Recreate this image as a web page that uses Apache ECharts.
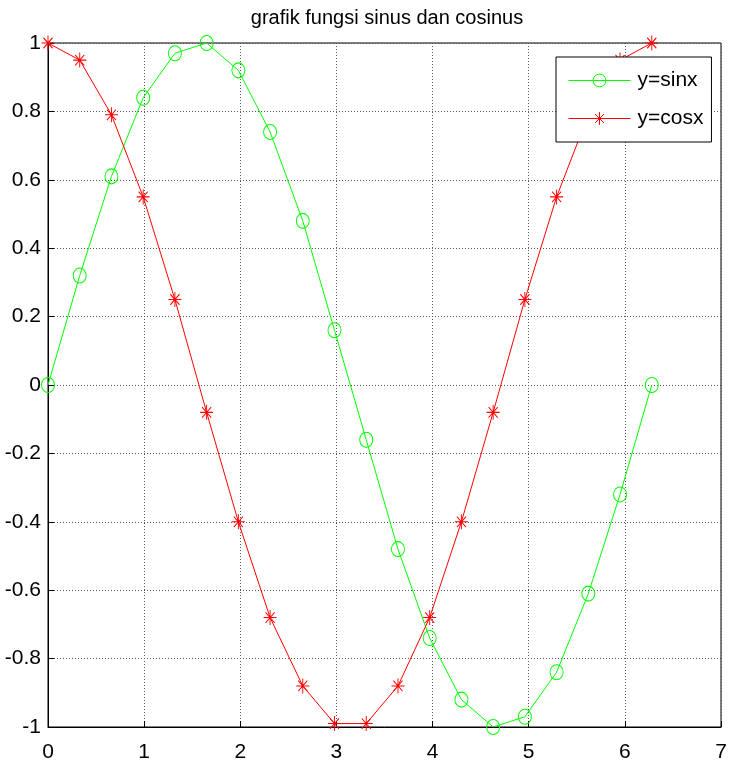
<!DOCTYPE html>
<html>
<head>
<meta charset="utf-8">
<script src="https://cdn.jsdelivr.net/npm/echarts@6/dist/echarts.min.js"></script>
<style>html,body{margin:0;padding:0;background:#fff}#c{width:731px;height:763px}</style>
</head>
<body>
<div id="c"></div>
<script>
const titleText = 'grafik fungsi sinus dan cosinus';
const xValues = [0, 0.33, 0.66, 0.99, 1.32, 1.65, 1.98, 2.31, 2.65, 2.98, 3.31, 3.64, 3.97, 4.30, 4.63, 4.96, 5.29, 5.62, 5.95, 6.28];
const sinValues = [0, 0.32, 0.61, 0.84, 0.97, 1.00, 0.92, 0.74, 0.48, 0.16, -0.16, -0.48, -0.74, -0.92, -1.00, -0.97, -0.84, -0.61, -0.32, 0];
const cosValues = [1, 0.95, 0.79, 0.55, 0.25, -0.08, -0.40, -0.68, -0.88, -0.99, -0.99, -0.88, -0.68, -0.40, -0.08, 0.25, 0.55, 0.79, 0.95, 1];
const seriesNames = ['y=sinx', 'y=cosx'];

const FONT = "'Liberation Sans', Arial, sans-serif";
const starPath = 'path://M0,-10 L0,10 M-10,0 L10,0 M-7,-7 L7,7 M-7,7 L7,-7';

const chart = echarts.init(document.getElementById('c'), null, {renderer: 'canvas'});
chart.setOption({
  animation: false,
  backgroundColor: '#fff',
  title: {
    text: titleText,
    left: 382, top: 3, textAlign: 'center',
    textStyle: {fontFamily: FONT, fontSize: 20, fontWeight: 'normal', color: '#000'}
  },
  grid: {left: 48, right: 10, top: 43, bottom: 36, show: true, borderColor: '#000', borderWidth: 1, backgroundColor: '#fff', containLabel: false, outerBoundsMode: 'none'},
  legend: {
    orient: 'vertical',
    left: 556, top: 57,
    backgroundColor: '#fff', borderColor: '#000', borderWidth: 1,
    padding: [13, 8, 13, 12],
    itemWidth: 62, itemHeight: 16, itemGap: 17,
    lineStyle: {width: 1},
    itemStyle: {borderWidth: 1},
    textStyle: {fontFamily: FONT, fontSize: 21, color: '#000', padding: [0, 0, 0, 2]},
    data: seriesNames
  },
  xAxis: {
    type: 'value', min: 0, max: 7, interval: 1,
    axisLine: {show: true, onZero: false, lineStyle: {color: '#000'}},
    axisTick: {show: true, inside: true, length: 6, lineStyle: {color: '#000'}},
    axisLabel: {fontFamily: FONT, fontSize: 21, color: '#000', margin: 15},
    splitLine: {show: true, lineStyle: {color: '#555', type: [1, 2], width: 1}}
  },
  yAxis: {
    type: 'value', min: -1, max: 1, interval: 0.2,
    axisLine: {show: true, onZero: false, lineStyle: {color: '#000'}},
    axisTick: {show: true, inside: true, length: 6, lineStyle: {color: '#000'}},
    axisLabel: {fontFamily: FONT, fontSize: 21, color: '#000', margin: 7},
    splitLine: {show: true, lineStyle: {color: '#555', type: [1, 2], width: 1}}
  },
  series: [
    {
      name: seriesNames[0], type: 'line',
      data: xValues.map((x, i) => [x, sinValues[i]]),
      symbol: 'circle', symbolSize: [13, 15], showAllSymbol: true,
      lineStyle: {color: '#00ff00', width: 1},
      itemStyle: {color: 'rgba(0,0,0,0)', borderColor: '#00ff00', borderWidth: 1},
      z: 3
    },
    {
      name: seriesNames[1], type: 'line',
      data: xValues.map((x, i) => [x, cosValues[i]]),
      symbol: starPath, symbolSize: [13, 15], showAllSymbol: true,
      lineStyle: {color: '#ff0000', width: 1},
      itemStyle: {color: '#ff0000', borderColor: '#ff0000', borderWidth: 1},
      z: 3
    }
  ]
});
</script>
</body>
</html>
